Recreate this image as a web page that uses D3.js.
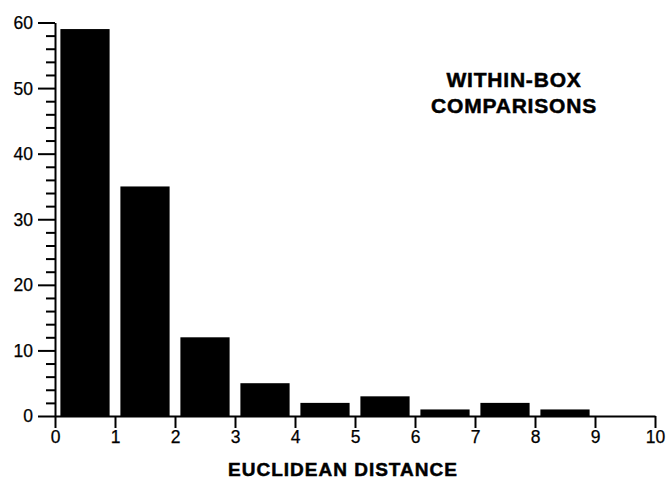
<!DOCTYPE html>
<html>
<head>
<meta charset="utf-8">
<script src="https://cdn.jsdelivr.net/npm/d3@7"></script>
<style>
  html, body { margin: 0; padding: 0; background: #fff; }
  svg { display: block; }
  text { font-family: "Liberation Sans", Arial, Helvetica, sans-serif; fill: #000; }
</style>
</head>
<body>
<svg id="chart" width="668" height="480"></svg>
<script>
// Histogram bins: lower edge of each unit-wide distance bin and its count
const binStarts = [0, 1, 2, 3, 4, 5, 6, 7, 8];
const counts = [59, 35, 12, 5, 2, 3, 1, 2, 1];
const xTicks = [0, 1, 2, 3, 4, 5, 6, 7, 8, 9, 10];
const yTicks = [0, 10, 20, 30, 40, 50, 60];
const yMinorTicks = d3.range(0, 61, 2).filter(v => v % 10 !== 0);
const titleLines = ["WITHIN-BOX", "COMPARISONS"];
const xTitle = "EUCLIDEAN DISTANCE";

const svg = d3.select("#chart");
const plotLeft = 55, plotRight = 655, plotTop = 22.5, plotBottom = 416;

const x = d3.scaleLinear().domain([0, 10]).range([plotLeft, plotRight]);
const y = d3.scaleLinear().domain([0, 60]).range([plotBottom, plotTop]);

// Bars, inset from the bin edges
const pad = 0.09;
svg.append("g").selectAll("rect")
  .data(binStarts.map((b, i) => ({ b, c: counts[i] })))
  .join("rect")
  .attr("x", d => x(d.b + pad))
  .attr("width", d => x(d.b + 1 - pad) - x(d.b + pad))
  .attr("y", d => y(d.c))
  .attr("height", d => y(0) - y(d.c))
  .attr("fill", "#000");

// Y axis with labelled major ticks
const yAxis = svg.append("g")
  .attr("transform", `translate(${plotLeft},0)`)
  .call(d3.axisLeft(y).tickValues(yTicks).tickSize(17).tickPadding(5).tickSizeOuter(0));
// Minor ticks every 2 units
svg.append("g")
  .attr("transform", `translate(${plotLeft},0)`)
  .call(d3.axisLeft(y).tickValues(yMinorTicks).tickSize(9).tickFormat("").tickSizeOuter(0))
  .select(".domain").remove();

// X axis
const xAxis = svg.append("g")
  .attr("transform", `translate(0,${plotBottom})`)
  .call(d3.axisBottom(x).tickValues(xTicks).tickSize(12).tickPadding(3).tickSizeOuter(0));

svg.selectAll(".tick line").attr("stroke", "#000").attr("stroke-width", 2);
svg.selectAll(".domain").attr("stroke", "#000").attr("stroke-width", 2);
svg.selectAll(".tick text")
  .style("font-family", "'Liberation Sans', Arial, sans-serif")
  .attr("font-size", 17.5)
  .attr("fill", "#000")
  .attr("stroke", "#000")
  .attr("stroke-width", 0.25);
yAxis.selectAll(".tick text").attr("dy", "0.34em");

// X axis title
svg.append("text")
  .attr("x", 343)
  .attr("y", 476)
  .attr("text-anchor", "middle")
  .attr("font-size", 19)
  .attr("font-weight", "bold")
  .attr("stroke", "#000")
  .attr("stroke-width", 0.5)
  .style("letter-spacing", "1px")
  .text(xTitle);

// Panel title
svg.append("g").selectAll("text")
  .data(titleLines)
  .join("text")
  .attr("x", 514)
  .attr("y", (d, i) => 86.5 + i * 26.5)
  .attr("text-anchor", "middle")
  .attr("font-size", 21)
  .attr("font-weight", "bold")
  .attr("stroke", "#000")
  .attr("stroke-width", 0.5)
  .style("letter-spacing", "0.8px")
  .text(d => d);
</script>
</body>
</html>
